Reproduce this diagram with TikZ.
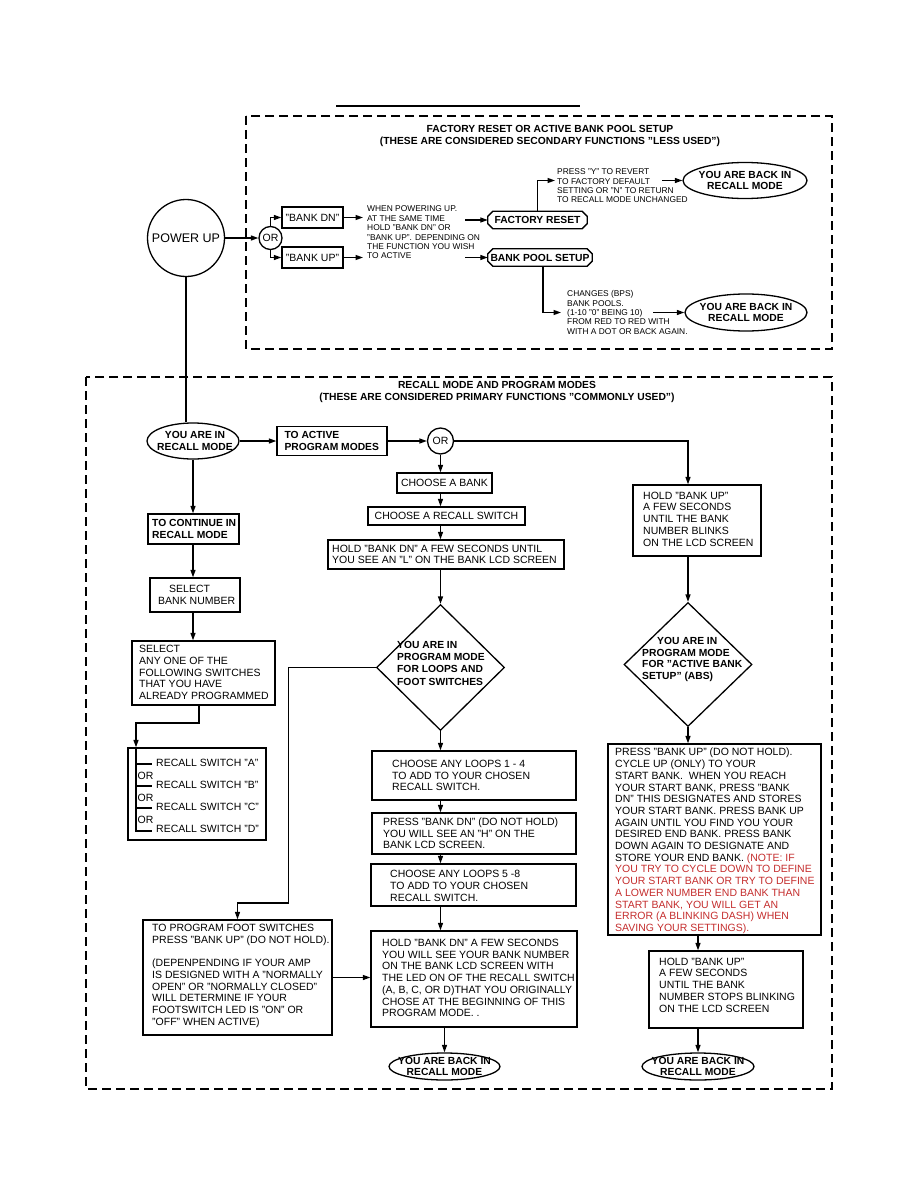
\documentclass[tikz,border=0pt]{standalone}
\usepackage{fontspec}
\setmainfont{Liberation Sans}
\usetikzlibrary{arrows.meta,shapes.geometric,calc}
\definecolor{notered}{RGB}{196,45,45}
\newcommand{\myfn}{\fontsize{10.5}{11.7}\selectfont}
\newcommand{\myfb}{\bfseries\fontsize{10.3}{11.7}\selectfont}
\newcommand{\myfs}{\fontsize{8.4}{9.4}\selectfont}
\begin{document}
\begin{tikzpicture}[x=1pt,y=-1pt,
  lw/.style={line width=1.3pt},
  box/.style={draw, lw, rectangle, inner sep=0pt, align=center, font=\myfn},
  arr/.style={lw, -{Triangle[length=7.5pt,width=5pt]}},
  ln/.style={lw},
  tx/.style={inner sep=0pt, align=left, font=\myfn},
  txb/.style={inner sep=0pt, align=left, font=\myfb},
  sm/.style={inner sep=0pt, align=left, font=\myfs},
  ell/.style={draw, lw, ellipse, inner sep=0pt},
  hexa/.style={inner sep=0pt, font=\myfb},
  grp/.style={draw, line width=1.3pt, dash pattern=on 9pt off 5pt},
  dia/.style={draw, lw, diamond, inner sep=0pt},
  orc/.style={draw, lw, circle, inner sep=0pt, font=\myfn},
]
\useasboundingbox (0,0) rectangle (918,1188);

% ---------------- top section ----------------
\draw[line width=1.6pt] (336,106) -- (580,106);
\draw[grp] (246,116) rectangle (832,349);
\node[txb, align=center, font=\bfseries\fontsize{10.3}{12}\selectfont] (title1) at (550,135.5)
  {FACTORY RESET OR ACTIVE BANK POOL SETUP\\(THESE ARE CONSIDERED SECONDARY FUNCTIONS "LESS USED")};

\node[draw, lw, circle, minimum size=77pt, inner sep=0pt, font=\fontsize{12.5}{14}\selectfont] (pu) at (186,238) {POWER UP};
\node[orc, minimum size=23pt] (or1) at (270.5,238) {OR};
\draw[arr] (pu.east) -- (or1.west);

\node[box, minimum width=61pt, minimum height=21pt] (bdn) at (312.5,217.5) {"BANK DN"};
\node[box, minimum width=61pt, minimum height=21pt] (bup) at (312.5,257.5) {"BANK UP"};
\draw[arr] (or1.north) |- (bdn.west);
\draw[arr] (or1.south) |- (bup.west);

\node[sm, anchor=west] (when) at (367,232.5)
  {WHEN POWERING UP.\\AT THE SAME TIME\\HOLD "BANK DN" OR\\"BANK UP". DEPENDING ON\\THE FUNCTION YOU WISH\\TO ACTIVE};
\draw[arr] (bdn.east) -- ($(bdn.east -| when.west)+(-4,0)$);
\draw[arr] (bup.east) -- ($(bup.east -| when.west)+(-4,0)$);

\node[hexa, minimum width=99pt, minimum height=17pt] (fr) at (537.5,220) {FACTORY RESET};
\draw[lw] ($(fr.north west)+(5,0)$) -- ($(fr.north east)+(-5,0)$) -- ($(fr.north east)+(0,5)$) -- ($(fr.south east)+(0,-5)$) -- ($(fr.south east)+(-5,0)$) -- ($(fr.south west)+(5,0)$) -- ($(fr.south west)+(0,-5)$) -- ($(fr.north west)+(0,5)$) -- cycle;
\node[hexa, minimum width=104pt, minimum height=17pt] (bps) at (540,257.5) {BANK POOL SETUP};
\draw[lw] ($(bps.north west)+(5,0)$) -- ($(bps.north east)+(-5,0)$) -- ($(bps.north east)+(0,5)$) -- ($(bps.south east)+(0,-5)$) -- ($(bps.south east)+(-5,0)$) -- ($(bps.south west)+(5,0)$) -- ($(bps.south west)+(0,-5)$) -- ($(bps.north west)+(0,5)$) -- cycle;

\coordinate (w1) at (465,220);
\coordinate (w2) at (465,257.5);
\draw[arr] (w1) -- (fr.west);
\draw[arr] (w2) -- (bps.west);

\node[sm, anchor=west] (prY) at (557,186)
  {PRESS "Y" TO REVERT\\TO FACTORY DEFAULT\\SETTING OR "N" TO RETURN\\TO RECALL MODE UNCHANGED};
\coordinate (fy) at (555,180.5);
\coordinate (fy2) at (662,180.5);
\draw[arr] (fr.north) |- (fy);
\node[ell, minimum width=124pt, minimum height=36pt] (ebk1) at (745,180.5) {};
\node[txb, align=center] (ebk1t) at (ebk1) {YOU ARE BACK IN\\RECALL MODE};
\draw[arr] (fy2) -- (ebk1.west);

\node[sm, anchor=west] (chg) at (567,312.5)
  {CHANGES (BPS)\\BANK POOLS.\\(1-10 "0" BEING 10)\\FROM RED TO RED WITH\\WITH A DOT OR BACK AGAIN.};
\coordinate (cg) at (561,312.5);
\coordinate (cg2) at (653,312.5);
\draw[arr] ($(bps.south)+(3,0)$) |- (cg);
\node[ell, minimum width=122pt, minimum height=37pt] (ebk2) at (746,312.5) {};
\node[txb, align=center] (ebk2t) at (ebk2) {YOU ARE BACK IN\\RECALL MODE};
\draw[arr] (cg2) -- (ebk2.west);

% ---------------- bottom section ----------------
\draw[grp] (86,377) rectangle (832,1089);
\node[txb, align=center, font=\bfseries\fontsize{10.3}{12}\selectfont] (title2) at (497,392)
  {RECALL MODE AND PROGRAM MODES\\(THESE ARE CONSIDERED PRIMARY FUNCTIONS "COMMONLY USED")};

\node[ell, minimum width=92pt, minimum height=36pt] (rm) at (193,441) {};
\node[txb, align=center] (rmt) at ([xshift=2pt]rm.center) {YOU ARE IN\\RECALL MODE};
\draw[ln] (pu.south) -- (pu.south |- rm.north);

\node[box, minimum width=110pt, minimum height=29pt] (tap) at (332,441) {};
\node[txb, anchor=west] (tapt) at ([xshift=8pt]tap.west) {TO ACTIVE\\PROGRAM MODES};
\draw[arr] (rm.east) -- (tap.west);

\node[orc, minimum size=26pt] (or2) at (440.5,441) {OR};
\draw[arr] (tap.east) -- (or2.west);

% right branch
\node[box, minimum width=128pt, minimum height=71pt] (hbu) at (697,520.5) {};
\node[tx, anchor=west] (hbut) at (643,519) {HOLD "BANK UP"\\A FEW SECONDS\\UNTIL THE BANK\\NUMBER BLINKS\\ON THE LCD SCREEN};
\node[dia, minimum width=128pt, minimum height=124pt] (d2) at (688,664.5) {};
\node[txb, anchor=west] (d2t) at (642,659.5) {\hspace*{15pt}YOU ARE IN\\PROGRAM MODE\\FOR "ACTIVE BANK\\SETUP" (ABS)};
\draw[arr] (or2.east) -| (d2.north |- hbu.north);
\draw[arr] (d2.north |- hbu.south) -- (d2.north);

\node[box, minimum width=213pt, minimum height=191pt] (bb) at (714.5,839.5) {};
\node[tx, anchor=west] (bbt) at (615,841) {PRESS "BANK UP" (DO NOT HOLD).\\
CYCLE UP (ONLY) TO YOUR\\
START BANK.~ WHEN YOU REACH\\
YOUR START BANK, PRESS "BANK\\
DN" THIS DESIGNATES AND STORES\\
YOUR START BANK. PRESS BANK UP\\
AGAIN UNTIL YOU FIND YOU YOUR\\
DESIRED END BANK. PRESS BANK\\
DOWN AGAIN TO DESIGNATE AND\\
STORE YOUR END BANK. \textcolor{notered}{(NOTE: IF}\\
\textcolor{notered}{YOU TRY TO CYCLE DOWN TO DEFINE}\\
\textcolor{notered}{YOUR START BANK OR TRY TO DEFINE}\\
\textcolor{notered}{A LOWER NUMBER END BANK THAN}\\
\textcolor{notered}{START BANK, YOU WILL GET AN}\\
\textcolor{notered}{ERROR (A BLINKING DASH) WHEN}\\
\textcolor{notered}{SAVING YOUR SETTINGS).}};
\draw[arr] (d2.south) -- (d2.south |- bb.north);

\node[box, minimum width=154pt, minimum height=77pt] (hbu2) at (726,989.5) {};
\node[tx, anchor=west] (hbu2t) at (659,985) {HOLD "BANK UP"\\A FEW SECONDS\\UNTIL THE BANK\\NUMBER STOPS BLINKING\\ON THE LCD SCREEN};
\node[ell, minimum width=112pt, minimum height=27pt] (ebk4) at (698,1066.5) {};
\node[txb, align=center] (ebk4t) at (ebk4) {YOU ARE BACK IN\\RECALL MODE};
\draw[arr] (ebk4.north |- bb.south) -- (ebk4.north |- hbu2.north);
\draw[arr] (ebk4.north |- hbu2.south) -- (ebk4.north);

% middle branch
\node[box, minimum width=95pt, minimum height=20pt] (cab) at (444.5,483) {CHOOSE A BANK};
\node[box, minimum width=157pt, minimum height=18pt] (crs) at (446.5,516) {CHOOSE A RECALL SWITCH};
\node[box, minimum width=236pt, minimum height=29pt] (hbd) at (446,554.5) {};
\node[tx, anchor=west] (hbdt) at (332,554.5) {HOLD "BANK DN" A FEW SECONDS UNTIL\\YOU SEE AN "L" ON THE BANK LCD SCREEN};
\draw[arr] (or2.south) -- (or2.south |- cab.north);
\draw[arr] (or2.south |- cab.south) -- (or2.south |- crs.north);
\draw[arr] (or2.south |- crs.south) -- (or2.south |- hbd.north);

\node[dia, minimum width=128pt, minimum height=126pt] (d1) at (440.5,667.5) {};
\node[txb, anchor=west, font=\bfseries\fontsize{10.3}{12.3}\selectfont] (d1t) at (397,663) {YOU ARE IN\\PROGRAM MODE\\FOR LOOPS AND\\FOOT SWITCHES};
\draw[arr] (d1.north |- hbd.south) -- (d1.north);

\node[box, minimum width=204pt, minimum height=49pt] (c14) at (474,775.5) {};
\node[tx, anchor=west] (c14t) at (392,775.5) {CHOOSE ANY LOOPS 1 - 4\\TO ADD TO YOUR CHOSEN\\RECALL SWITCH.};
\node[box, minimum width=204pt, minimum height=41pt] (pbd) at (474,833.5) {};
\node[tx, anchor=west] (pbdt) at (383,833.5) {PRESS "BANK DN" (DO NOT HOLD)\\YOU WILL SEE AN "H" ON THE\\BANK LCD SCREEN.};
\node[box, minimum width=205pt, minimum height=42pt] (c58) at (473.5,885) {};
\node[tx, anchor=west] (c58t) at (390,886) {CHOOSE ANY LOOPS 5 -8\\TO ADD TO YOUR CHOSEN\\RECALL SWITCH.};
\node[box, minimum width=206pt, minimum height=96pt] (hbd2) at (474,979) {};
\node[tx, anchor=west] (hbd2t) at (382,978) {HOLD "BANK DN" A FEW SECONDS\\YOU WILL SEE YOUR BANK NUMBER\\ON THE BANK LCD SCREEN WITH\\THE LED ON OF THE RECALL SWITCH\\(A, B, C, OR D)THAT YOU ORIGINALLY\\CHOSE AT THE BEGINNING OF THIS\\PROGRAM MODE. .};
\node[ell, minimum width=111pt, minimum height=27pt] (ebk3) at (444.5,1066.5) {};
\node[txb, align=center] (ebk3t) at (ebk3) {YOU ARE BACK IN\\RECALL MODE};

\draw[arr] (d1.south) -- (d1.south |- c14.north);
\draw[arr] (d1.south |- c14.south) -- (d1.south |- pbd.north);
\draw[arr] (d1.south |- pbd.south) -- (d1.south |- c58.north);
\draw[arr] (d1.south |- c58.south) -- (d1.south |- hbd2.north);
\draw[arr] (ebk3.north |- hbd2.south) -- (ebk3.north);

\node[box, minimum width=189pt, minimum height=115pt] (fsw) at (237.5,977.5) {};
\node[tx, anchor=west] (fswt) at (152,976) {TO PROGRAM FOOT SWITCHES\\PRESS "BANK UP" (DO NOT HOLD).\\[11.7pt](DEPENPENDING IF YOUR AMP\\IS DESIGNED WITH A "NORMALLY\\OPEN" OR "NORMALLY CLOSED"\\WILL DETERMINE IF YOUR\\FOOTSWITCH LED IS "ON" OR\\"OFF" WHEN ACTIVE)};
\coordinate (c1) at (288.5,903);
\draw[arr] (d1.west) -| (c1) -| (fsw.north);
\draw[arr] (fsw.east) -- (fsw.east -| hbd2.west);

% left branch
\node[box, minimum width=91pt, minimum height=30pt] (tcr) at (193.5,529) {};
\node[txb, anchor=west] (tcrt) at (152,529) {TO CONTINUE IN\\RECALL MODE};
\node[box, minimum width=90pt, minimum height=34pt] (sbn) at (195,595) {};
\node[tx, anchor=west] (sbnt) at (158,595) {\hspace*{11pt}SELECT\\BANK NUMBER};
\node[box, minimum width=143pt, minimum height=64pt] (sao) at (203.5,673) {};
\node[tx, anchor=west] (saot) at (139,672.5) {SELECT\\ANY ONE OF THE\\FOLLOWING SWITCHES\\THAT YOU HAVE\\ALREADY PROGRAMMED};
\draw[arr] (rm.south) -- (rm.south |- tcr.north);
\draw[arr] (rm.south |- tcr.south) -- (rm.south |- sbn.north);
\draw[arr] (rm.south |- sbn.south) -- (rm.south |- sao.north);

\node[box, minimum width=138pt, minimum height=92pt] (rsw) at (197,794) {};
\coordinate (c2) at (136,723);
\draw[arr] ($(sao.south)+(-4.5,0)$) |- (c2) -- (c2 |- rsw.north);
\draw[ln] (c2 |- rsw.north) -- (136,831) -- (152,831);
\draw[ln] (136,764) -- (152,764);
\draw[ln] (136,786) -- (152,786);
\draw[ln] (136,808) -- (152,808);
\node[tx, anchor=west] (rsA) at (156,763) {RECALL SWITCH "A"};
\node[tx, anchor=west] (rsB) at (156,785) {RECALL SWITCH "B"};
\node[tx, anchor=west] (rsC) at (156,807) {RECALL SWITCH "C"};
\node[tx, anchor=west] (rsD) at (156,829) {RECALL SWITCH "D"};
\node[tx, anchor=west] (orA) at (137.5,776) {OR};
\node[tx, anchor=west] (orB) at (137.5,798) {OR};
\node[tx, anchor=west] (orC) at (137.5,820) {OR};
\end{tikzpicture}
\end{document}
